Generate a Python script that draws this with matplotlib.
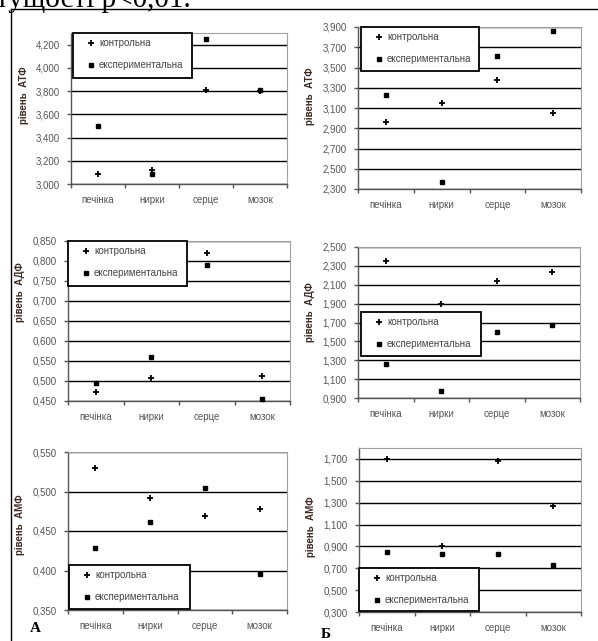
import numpy as np
import matplotlib
matplotlib.use('Agg')
import matplotlib.pyplot as plt
from matplotlib.patches import Rectangle
from matplotlib.lines import Line2D

# категорії та серії
organy = ['печінка', 'нирки', 'серце', 'мозок']
seriyi = ['контрольна', 'експериментальна']

# значення (А - ліва колонка, Б - права)
atf_a_kontrol = [3.09, 3.12, 3.81, 3.80]
atf_a_eksper = [3.50, 3.085, 4.25, 3.81]
atf_b_kontrol = [2.965, 3.15, 3.375, 3.055]
atf_b_eksper = [3.23, 2.365, 3.61, 3.86]

adf_a_kontrol = [0.473, 0.508, 0.821, 0.512]
adf_a_eksper = [0.495, 0.56, 0.79, 0.456]
adf_b_kontrol = [2.356, 1.896, 2.137, 2.232]
adf_b_eksper = [1.264, 0.975, 1.596, 1.677]

amf_a_kontrol = [0.530, 0.492, 0.469, 0.478]
amf_a_eksper = [0.428, 0.461, 0.505, 0.395]
amf_b_kontrol = [1.695, 0.902, 1.685, 1.272]
amf_b_eksper = [0.850, 0.826, 0.826, 0.728]

W, H = 598, 641
plt.rcParams['font.family'] = ['Liberation Sans', 'DejaVu Sans']

fig = plt.figure(figsize=(W / 100, H / 100), dpi=100)


def px_box(l, t, r, b):
    return [l / W, 1 - b / H, (r - l) / W, (b - t) / H]


# (контроль, експеримент, підпис, ymin, ymax, ymax_tick, крок, осі px, легенда px, y підпису)
panely = [
    (atf_a_kontrol, atf_a_eksper, 'рівень  АТФ', 3.0, 4.3, 4.2, 0.2,
     (71, 33, 287, 184), (73, 33, 192, 78), 0.59),
    (atf_b_kontrol, atf_b_eksper, 'рівень  АТФ', 2.3, 3.9, 3.9, 0.2,
     (358, 27, 581, 189), (361, 27, 479, 71), 0.57),
    (adf_a_kontrol, adf_a_eksper, 'рівень  АДФ', 0.45, 0.85, 0.85, 0.05,
     (68, 241, 290, 401), (68, 241, 187, 286), 0.68),
    (adf_b_kontrol, adf_b_eksper, 'рівень  АДФ', 0.9, 2.5, 2.5, 0.2,
     (358, 247, 580, 398), (361, 312, 481, 356), 0.57),
    (amf_a_kontrol, amf_a_eksper, 'рівень  АМФ', 0.35, 0.55, 0.55, 0.05,
     (68, 452, 287, 610), (69, 565, 190, 609), 0.54),
    (amf_b_kontrol, amf_b_eksper, 'рівень  АМФ', 0.3, 1.8, 1.7, 0.2,
     (359, 448, 581, 612), (359, 568, 479, 611), 0.52),
]

x = np.arange(1, len(organy) + 1)

for kontrol, eksper, pidpys, ymin, ymax, ytop, krok, osi, leg, ylab in panely:
    ax = fig.add_axes(px_box(*osi))
    ax.set_xlim(0.5, len(organy) + 0.5)
    ax.set_ylim(ymin, ymax)

    ticks = np.round(np.arange(ymin, ytop + krok / 2, krok), 3)
    ax.set_yticks(ticks)
    ax.set_yticklabels([f'{t:.3f}'.replace('.', ',') for t in ticks])
    ax.yaxis.grid(True, color='black', linewidth=1.0)
    ax.set_axisbelow(True)

    ax.set_xticks(np.arange(0.5, len(organy) + 1, 1.0))
    ax.set_xticklabels([])
    ax.set_xticks(x, minor=True)
    ax.set_xticklabels(organy, minor=True)
    ax.tick_params(axis='x', which='major', direction='out', length=3,
                   width=1, color='#555555')
    ax.tick_params(axis='x', which='minor', length=0, pad=8,
                   labelsize=7, labelcolor='#555555')
    ax.tick_params(axis='y', direction='out', length=3, width=1,
                   color='#555555', pad=5, labelsize=7, labelcolor='#555555')

    for s in ['left', 'bottom']:
        ax.spines[s].set_color('#555555')
        ax.spines[s].set_linewidth(1.0)
    for s in ['top', 'right']:
        ax.spines[s].set_color('#a0a0a0')
        ax.spines[s].set_linewidth(0.8)

    ax.plot(x, kontrol, linestyle='none', marker='+', markersize=4,
            markeredgewidth=1.3, color='black', label=seriyi[0], zorder=6,
            clip_on=False)
    ax.plot(x, eksper, linestyle='none', marker='s', markersize=3.3,
            color='black', label=seriyi[1], zorder=6, clip_on=False)

    ax.set_ylabel(pidpys, fontsize=7, fontweight='bold', color='#3b2b22')
    ax.yaxis.set_label_coords(-0.195, ylab)

    # рамка легенди
    l, t, r, b = leg
    ax.add_patch(Rectangle((l / W, 1 - b / H), (r - l) / W, (b - t) / H,
                           transform=fig.transFigure, facecolor='white',
                           edgecolor='black', linewidth=1.3, zorder=4,
                           clip_on=False))
    lg = ax.legend(loc='upper left', bbox_to_anchor=((l + 10) / W, 1 - (t + 2) / H),
                   bbox_transform=fig.transFigure, frameon=False, fontsize=7,
                   handlelength=1.0, handletextpad=0.35, labelspacing=1.25,
                   borderpad=0.3, borderaxespad=0)
    for txt in lg.get_texts():
        txt.set_color('#444444')
    lg.set_zorder(7)

# рамка клітинки таблиці
fig.add_artist(Line2D([11 / W, 1], [1 - 9 / H, 1 - 9 / H], color='black',
                      linewidth=1.0, transform=fig.transFigure))
fig.add_artist(Line2D([11 / W, 11 / W], [1 - 9 / H, 0], color='black',
                      linewidth=1.0, transform=fig.transFigure))

# обрізаний рядок тексту над рисунком
fig.text(-4 / W, 1 - 7 / H, 'тущості р<0,01.', fontsize=21,
         family='Liberation Serif', va='baseline', ha='left', color='black')

fig.text(35 / W, 1 - 632 / H, 'А', fontsize=11, fontweight='bold',
         family='Liberation Serif', ha='center', va='baseline')
fig.text(326 / W, 1 - 638 / H, 'Б', fontsize=11, fontweight='bold',
         family='Liberation Serif', ha='center', va='baseline')

fig.savefig('out.png', dpi=100)
